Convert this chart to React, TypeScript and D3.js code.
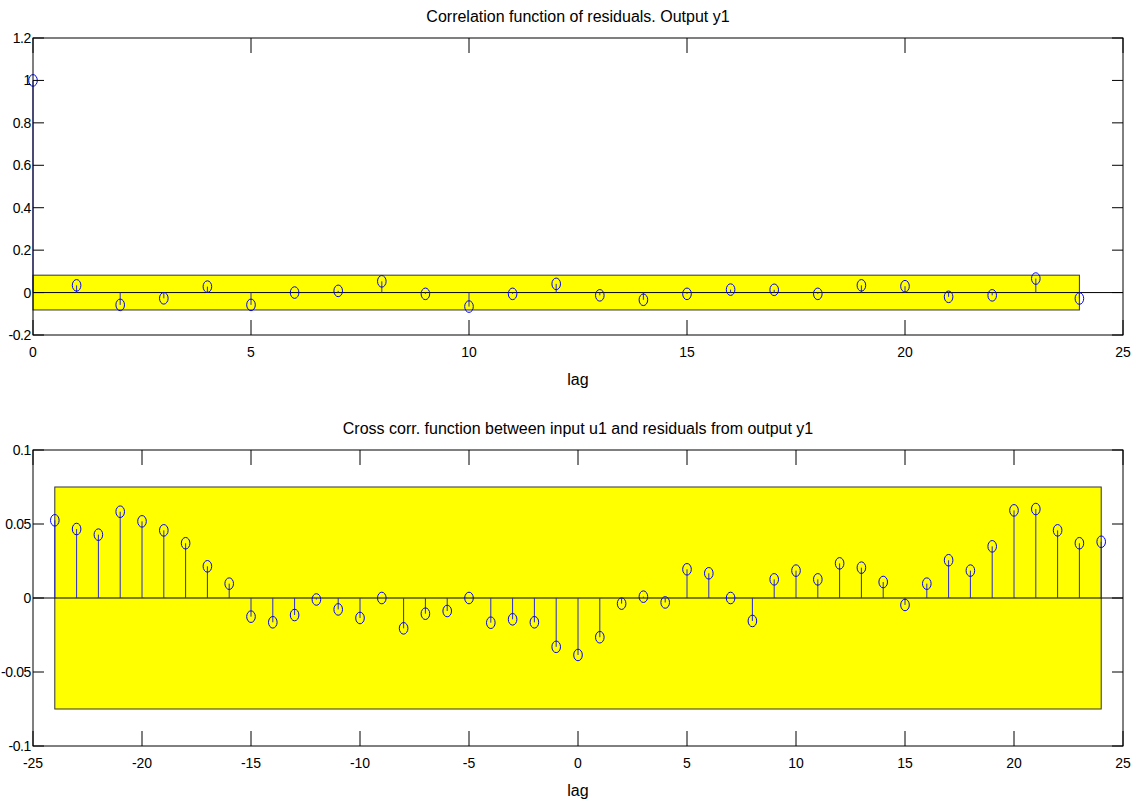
import React from "react";
import * as d3 from "d3";

// ---- Data ----
const autoLags = d3.range(0, 25);
const autoValues = [
  1.0, 0.034, -0.058, -0.027, 0.028, -0.058, 0.0, 0.008, 0.053, -0.006,
  -0.066, -0.006, 0.041, -0.013, -0.034, -0.006, 0.014, 0.013, -0.006, 0.034,
  0.03, -0.02, -0.013, 0.066, -0.028,
];
const autoConf = 0.082;
const autoXTicks = [0, 5, 10, 15, 20, 25];
const autoYTicks = [-0.2, 0, 0.2, 0.4, 0.6, 0.8, 1, 1.2];
const autoYTickLabels = ["-0.2", "0", "0.2", "0.4", "0.6", "0.8", "1", "1.2"];

const crossLags = d3.range(-24, 25);
const crossValues = [
  0.0525, 0.0466, 0.0428, 0.0583, 0.0518, 0.0457, 0.037, 0.0214, 0.0097,
  -0.0126, -0.0164, -0.0115, -0.001, -0.0077, -0.0135, 0.0, -0.0205, -0.0106,
  -0.0088, 0.0, -0.0167, -0.0144, -0.0164, -0.033, -0.0385, -0.0265, -0.0038,
  0.0009, -0.003, 0.0194, 0.0167, 0.0, -0.0155, 0.0126, 0.0185, 0.0126, 0.0234,
  0.0205, 0.0108, -0.0047, 0.0097, 0.0255, 0.0185, 0.0349, 0.0592, 0.0601,
  0.0457, 0.037, 0.038,
];
const crossConf = 0.075;
const crossXTicks = [-25, -20, -15, -10, -5, 0, 5, 10, 15, 20, 25];
const crossYTicks = [-0.1, -0.05, 0, 0.05, 0.1];
const crossYTickLabels = ["-0.1", "-0.05", "0", "0.05", "0.1"];

const FONT = "'Liberation Sans', Arial, sans-serif";

type PanelProps = {
  title: string;
  lags: number[];
  values: number[];
  conf: number;
  xDomain: [number, number];
  yDomain: [number, number];
  xTicks: number[];
  yTicks: number[];
  yTickLabels: string[];
  left: number;
  right: number;
  top: number;
  bottom: number;
};

function Panel(p: PanelProps) {
  const x = d3.scaleLinear().domain(p.xDomain).range([p.left, p.right]);
  const y = d3.scaleLinear().domain(p.yDomain).range([p.bottom, p.top]);
  const lagMin = d3.min(p.lags) as number;
  const lagMax = d3.max(p.lags) as number;
  const xTickLen = 15;
  const yTickLen = 11;
  const cx = (p.left + p.right) / 2;
  return (
    <g>
      {/* confidence band */}
      <rect
        x={x(lagMin)}
        y={y(p.conf)}
        width={x(lagMax) - x(lagMin)}
        height={y(-p.conf) - y(p.conf)}
        fill="#ffff00"
        stroke="#333"
        strokeWidth={1}
      />
      {/* zero line */}
      <line x1={p.left} x2={p.right} y1={y(0)} y2={y(0)} stroke="#000" strokeWidth={1} />
      {/* stems */}
      {p.lags.map((l, i) => (
        <line
          key={"s" + i}
          x1={x(l)}
          x2={x(l)}
          y1={y(0)}
          y2={y(p.values[i])}
          stroke="#2a2ad0"
          strokeWidth={1}
        />
      ))}
      {p.lags.map((l, i) => (
        <ellipse
          key={"c" + i}
          cx={x(l)}
          cy={y(p.values[i])}
          rx={4.3}
          ry={5.8}
          fill="none"
          stroke="#0000ff"
          strokeWidth={1}
        />
      ))}
      {/* axes box */}
      <rect
        x={p.left}
        y={p.top}
        width={p.right - p.left}
        height={p.bottom - p.top}
        fill="none"
        stroke="#000"
        strokeWidth={1}
      />
      {/* x ticks */}
      {p.xTicks.map((t) => (
        <g key={"xt" + t}>
          <line x1={x(t)} x2={x(t)} y1={p.bottom} y2={p.bottom - xTickLen} stroke="#000" />
          <line x1={x(t)} x2={x(t)} y1={p.top} y2={p.top + xTickLen} stroke="#000" />
          <text
            x={x(t)}
            y={p.bottom + 22}
            textAnchor="middle"
            fontFamily={FONT}
            fontSize={14}
            fill="#000"
          >
            {String(t)}
          </text>
        </g>
      ))}
      {/* y ticks */}
      {p.yTicks.map((t, i) => (
        <g key={"yt" + i}>
          <line x1={p.left} x2={p.left + yTickLen} y1={y(t)} y2={y(t)} stroke="#000" />
          <line x1={p.right} x2={p.right - yTickLen} y1={y(t)} y2={y(t)} stroke="#000" />
          <text
            x={p.left - 2}
            y={y(t) + 5}
            textAnchor="end"
            fontFamily={FONT}
            fontSize={14}
            letterSpacing="-0.4px"
            fill="#000"
          >
            {p.yTickLabels[i]}
          </text>
        </g>
      ))}
      {/* title */}
      <text
        x={cx}
        y={p.top - 16}
        textAnchor="middle"
        fontFamily={FONT}
        fontSize={16}
        fill="#000"
      >
        {p.title}
      </text>
      {/* x label */}
      <text
        x={cx}
        y={p.bottom + 50}
        textAnchor="middle"
        fontFamily={FONT}
        fontSize={16}
        fill="#000"
      >
        lag
      </text>
    </g>
  );
}

export default function App() {
  return (
    <svg
      width={1142}
      height={807}
      style={{ position: "absolute", left: 0, top: 0, background: "#fff" }}
    >
      <rect x={0} y={0} width={1142} height={807} fill="#fff" />
      <Panel
        title="Correlation function of residuals. Output y1"
        lags={autoLags}
        values={autoValues}
        conf={autoConf}
        xDomain={[0, 25]}
        yDomain={[-0.2, 1.2]}
        xTicks={autoXTicks}
        yTicks={autoYTicks}
        yTickLabels={autoYTickLabels}
        left={33}
        right={1123}
        top={38}
        bottom={335}
      />
      <Panel
        title="Cross corr. function between input u1 and residuals from output y1"
        lags={crossLags}
        values={crossValues}
        conf={crossConf}
        xDomain={[-25, 25]}
        yDomain={[-0.1, 0.1]}
        xTicks={crossXTicks}
        yTicks={crossYTicks}
        yTickLabels={crossYTickLabels}
        left={33}
        right={1123}
        top={450}
        bottom={746}
      />
    </svg>
  );
}
